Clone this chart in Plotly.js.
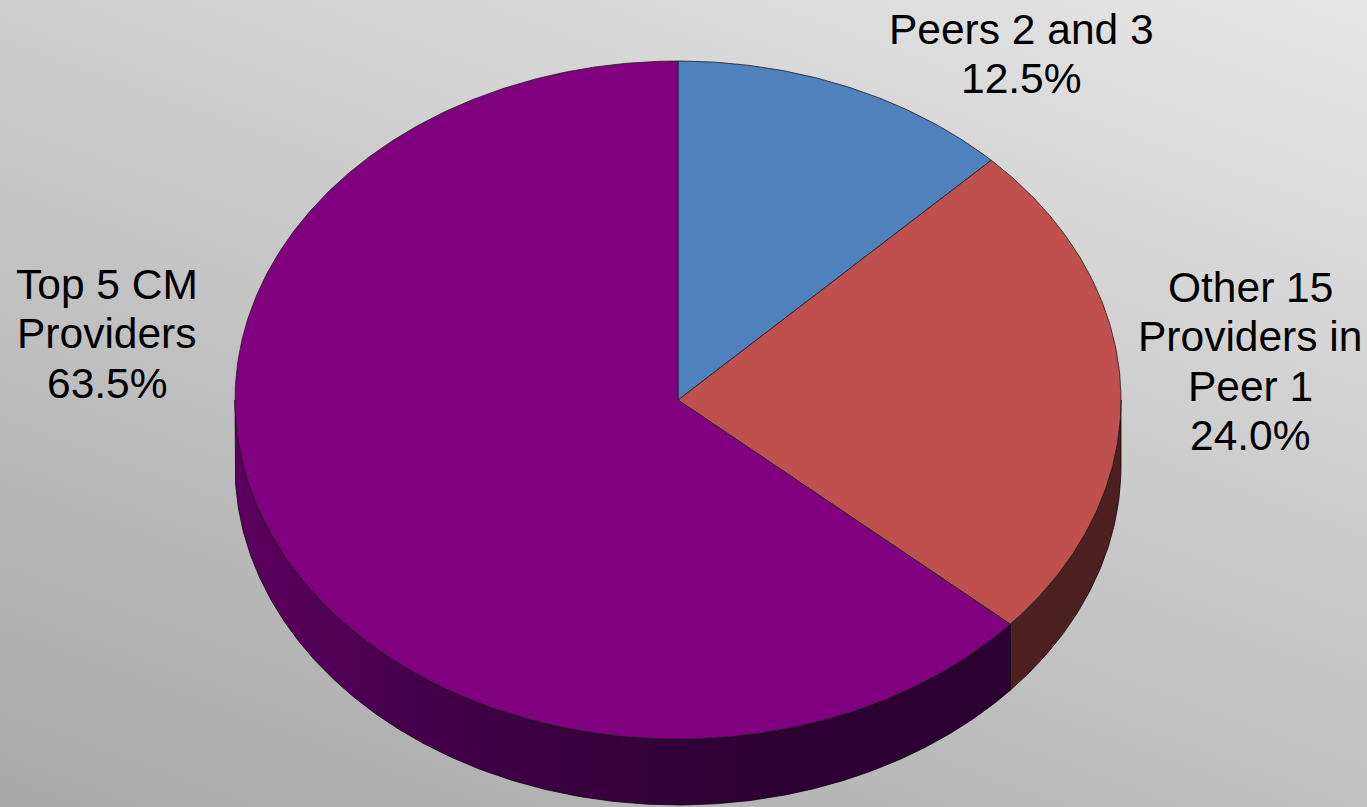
<!DOCTYPE html>
<html><head><meta charset="utf-8">
<script src="https://cdn.plot.ly/plotly-3.0.1.min.js"></script>
<style>
html,body{margin:0;padding:0;}
body{width:1367px;height:807px;overflow:hidden;background:linear-gradient(200deg,#e6e6e6 0%,#a8a8a8 100%);}
#chart{width:1367px;height:807px;}
</style>
</head><body><div id="chart"></div>
<script>
// ---- data ----
const categories = ['Peers 2 and 3', 'Other 15 Providers in Peer 1', 'Top 5 CM Providers'];
const values = [12.5, 24.0, 63.5];
const labelLines = [['Peers 2 and 3'], ['Other 15', 'Providers in', 'Peer 1'], ['Top 5 CM', 'Providers']];

// ---- style ----
const topColors = ['#4f81bd', '#c0504d', '#800080'];
const wallScales = [
  [[0, '#283f60'], [1, '#283f60']],
  [[0, '#4e2121'], [1, '#481d1d']],
  [[0, '#5c0060'], [0.45, '#3e0044'], [1, '#2c0032']]
];
const labelPos = [{x: 1021, y: 29}, {x: 1250, y: 287}, {x: 107, y: 284}];
const LINE_GAP = 49.5;

// ---- geometry (pixel-space layout of the tilted pie) ----
const CX = 678, CY = 400, RX = 443, RY = 339, DEPTH = 66;
function pt(theta, dy) { return [CX + RX * Math.sin(theta), CY - RY * Math.cos(theta) + (dy || 0)]; }
function arc(a0, a1, dy) {
  const n = Math.max(4, Math.ceil((a1 - a0) / (Math.PI / 360)));
  const xs = [], ys = [];
  for (let i = 0; i <= n; i++) { const p = pt(a0 + (a1 - a0) * i / n, dy); xs.push(p[0]); ys.push(p[1]); }
  return [xs, ys];
}

const total = values.reduce((a, b) => a + b, 0);
const traces = [];
const tops = [];
let acc = 0;
values.forEach((v, i) => {
  const a0 = 2 * Math.PI * acc / total;
  acc += v;
  const a1 = 2 * Math.PI * acc / total;
  // side wall (visible part only: lower half of the ellipse)
  const w0 = Math.max(a0, Math.PI / 2), w1 = Math.min(a1, 3 * Math.PI / 2);
  if (w0 < w1) {
    const [tx, ty] = arc(w0, w1, 0);
    const [bx, by] = arc(w0, w1, DEPTH);
    const xs = tx.concat(bx.slice().reverse(), [tx[0]]);
    const ys = ty.concat(by.slice().reverse(), [ty[0]]);
    traces.push({
      type: 'scatter', mode: 'lines', x: xs, y: ys, fill: 'toself',
      fillgradient: {type: 'horizontal', colorscale: wallScales[i], start: Math.min(...xs), stop: Math.min(...xs) + 560},
      line: {color: 'rgba(10,0,10,0.75)', width: 1}, hoverinfo: 'skip', showlegend: false
    });
  }
  // top face
  const [ax, ay] = arc(a0, a1, 0);
  tops.push({
    type: 'scatter', mode: 'lines', name: categories[i],
    x: [CX].concat(ax, [CX]), y: [CY].concat(ay, [CY]), fill: 'toself',
    fillcolor: topColors[i], line: {color: 'rgba(30,30,30,0.8)', width: 1},
    hoverinfo: 'skip', showlegend: false
  });
});

const annotations = [];
values.forEach((v, i) => {
  const lines = labelLines[i].concat([v.toFixed(1) + '%']);
  lines.forEach((t, k) => {
    annotations.push({
      xref: 'x', yref: 'y', x: labelPos[i].x, y: labelPos[i].y + k * LINE_GAP,
      text: t, showarrow: false, xanchor: 'center', yanchor: 'middle',
      font: {family: 'Liberation Sans, Arial, sans-serif', size: 42.5, color: '#000'}
    });
  });
});

const layout = {
  width: 1367, height: 807,
  margin: {l: 0, r: 0, t: 0, b: 0},
  paper_bgcolor: 'rgba(0,0,0,0)', plot_bgcolor: 'rgba(0,0,0,0)',
  xaxis: {range: [0, 1367], visible: false, fixedrange: true},
  yaxis: {range: [807, 0], visible: false, fixedrange: true},
  annotations: annotations,
  showlegend: false
};
Plotly.newPlot('chart', traces.concat(tops), layout, {displayModeBar: false, staticPlot: true});
</script>
</body></html>
